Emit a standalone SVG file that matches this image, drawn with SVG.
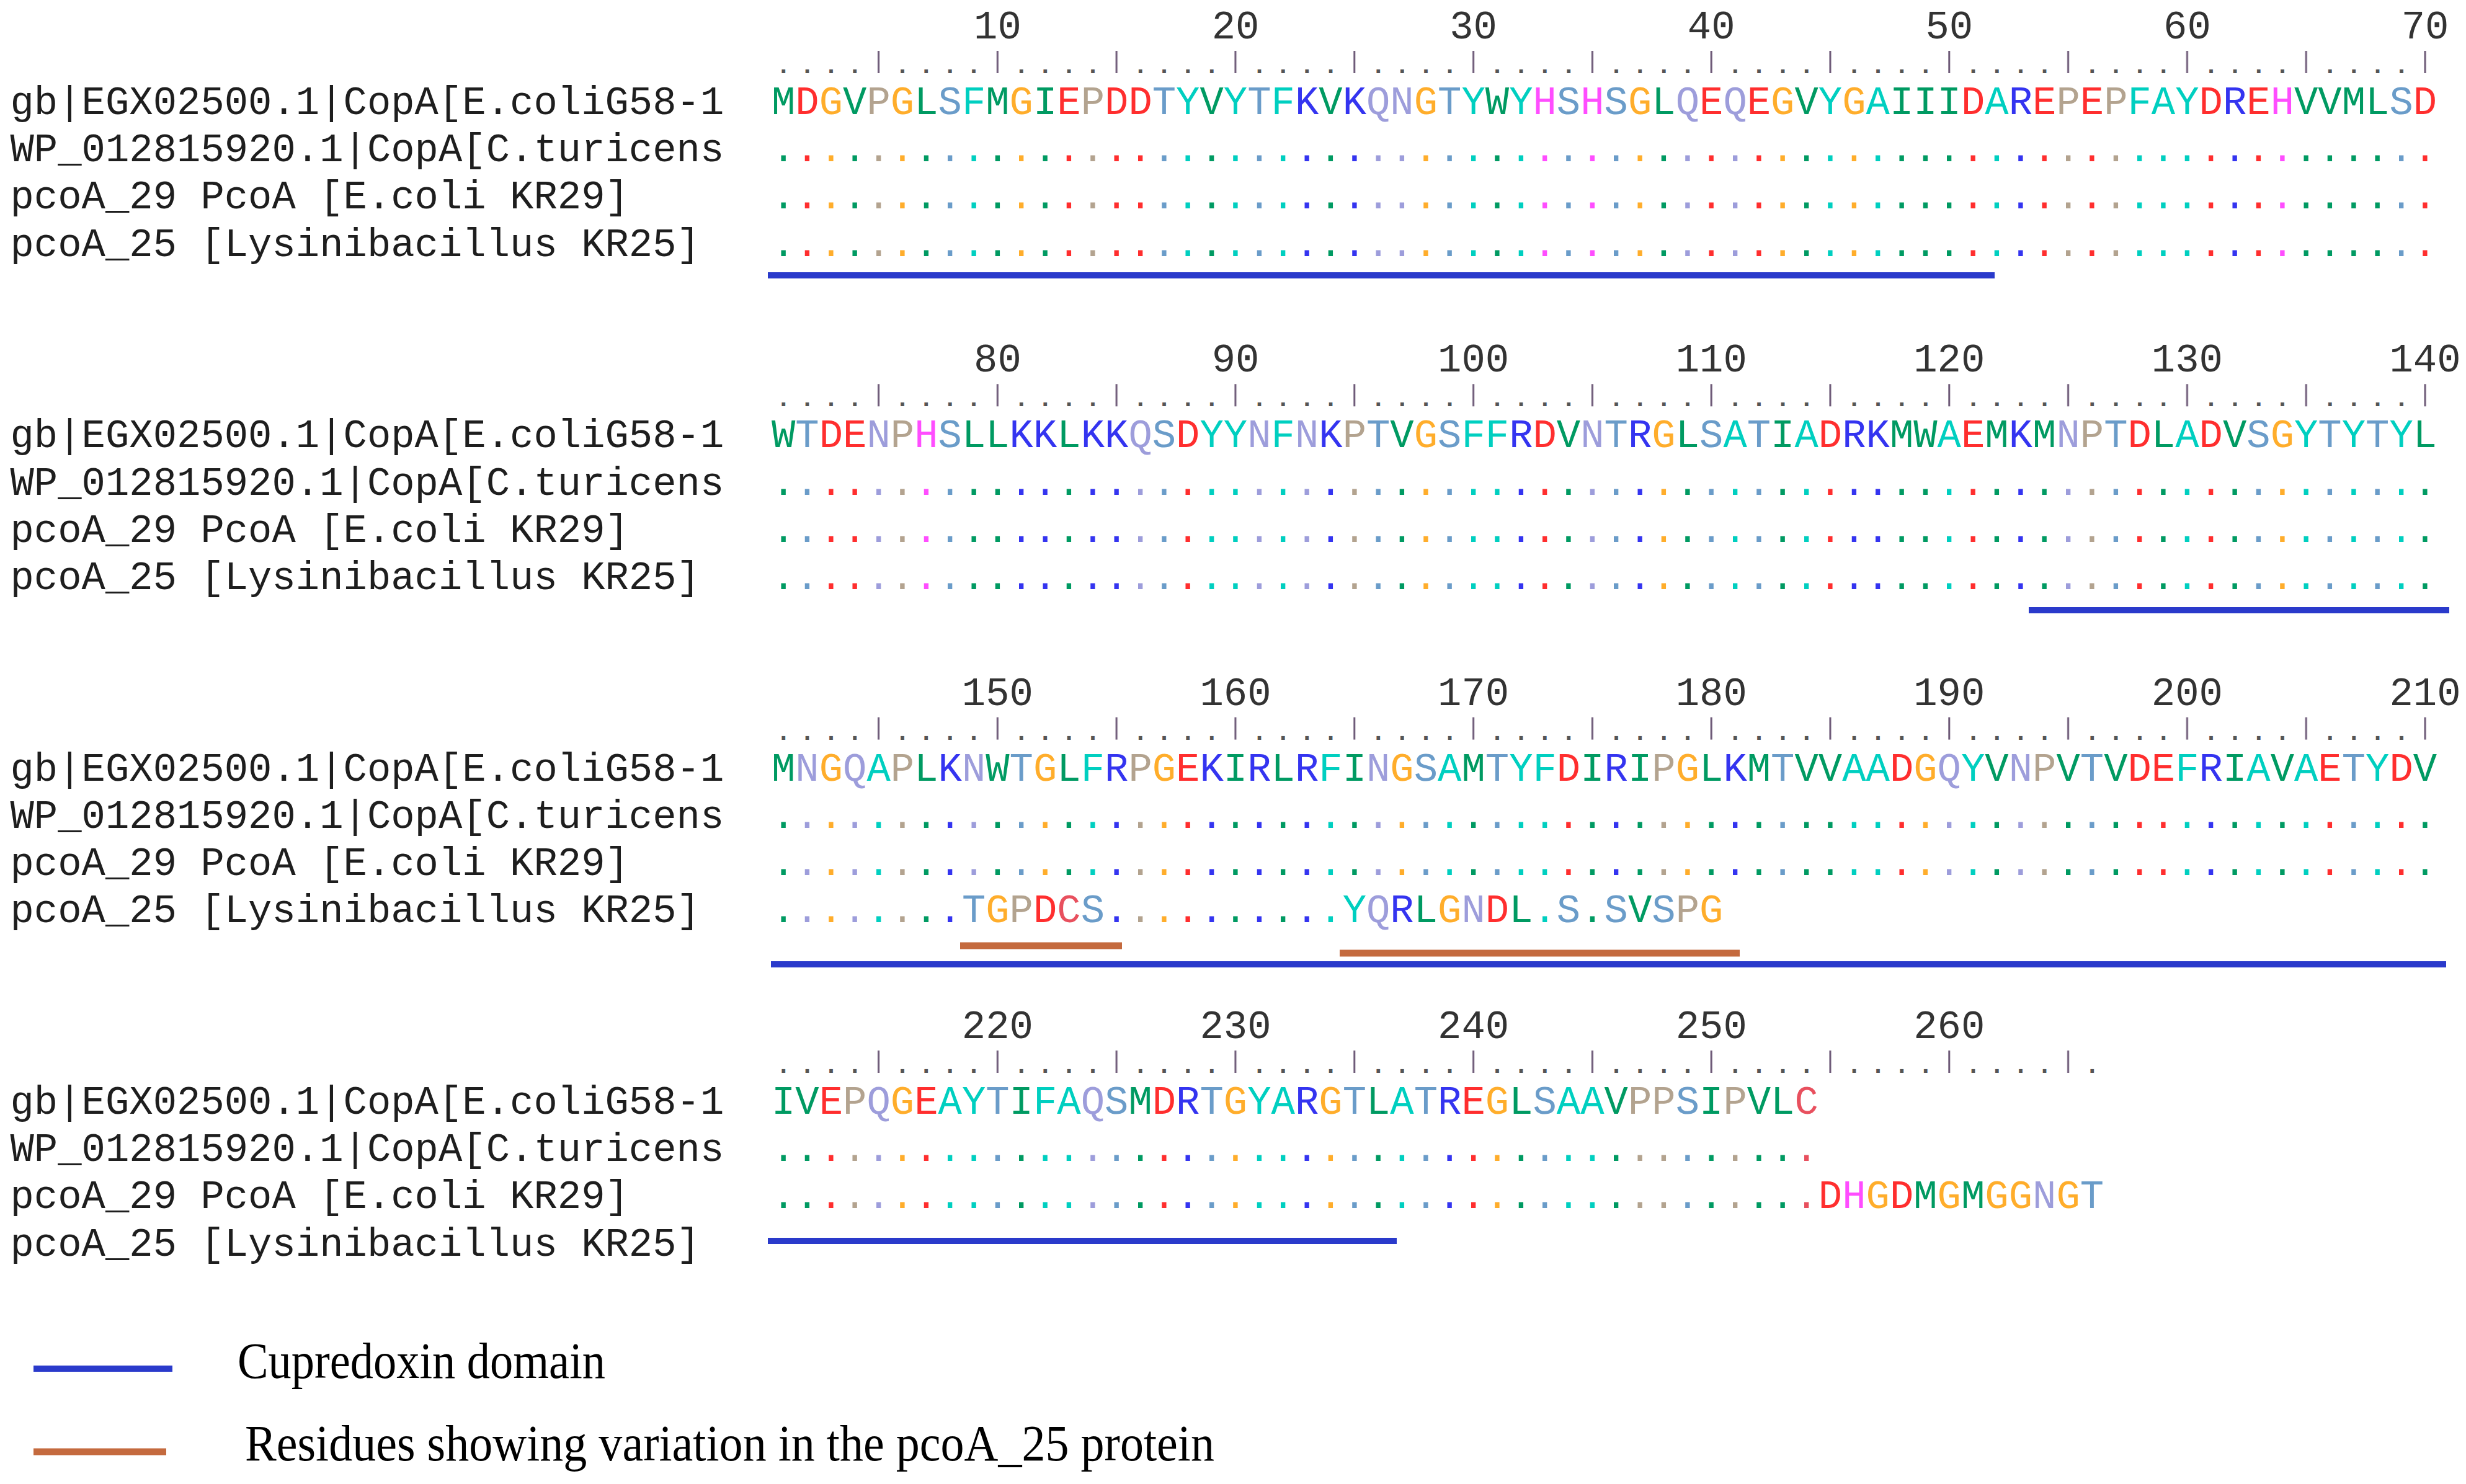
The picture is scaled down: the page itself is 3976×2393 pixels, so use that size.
<svg xmlns="http://www.w3.org/2000/svg" width="3976" height="2393" viewBox="0 0 3976 2393">
<style>
text{font-family:"Liberation Mono","DejaVu Sans Mono",monospace;font-size:63.93px}
.lab{fill:#1e1e1e}
.num{fill:#333;text-anchor:middle}
.rul{fill:#555;font-size:40px;font-weight:bold;letter-spacing:14.36px}
.leg{font-family:"Liberation Serif","Times New Roman",serif;font-size:83px;fill:#000}
.g{fill:#009a62}.c{fill:#00cfc0}.s{fill:#6a9cc9}.r{fill:#ff2e2e}.b{fill:#3434f0}
.l{fill:#9d9ddb}.o{fill:#ffad2b}.p{fill:#b3a38f}.m{fill:#ff4dff}.x{fill:#e8505e}
.dom{stroke:#2a3acb;stroke-width:10;fill:none}
.var{stroke:#c46a3e;stroke-width:11;fill:none}
</style>
<defs>
<pattern id="tk" patternUnits="userSpaceOnUse" x="1244" y="0" width="191.8" height="2393"><rect x="171.1" y="0" width="3" height="2393" fill="#6e5a78"/></pattern>
</defs>
<rect width="3976" height="2393" fill="#fff"/>

<g id="block1">
<g class="num"><text x="1608.4" y="62">10</text><text x="1992.0" y="62">20</text><text x="2375.6" y="62">30</text><text x="2759.2" y="62">40</text><text x="3142.8" y="62">50</text><text x="3526.4" y="62">60</text><text x="3910.0" y="62">70</text></g>
<text class="rul" x="1251.2" y="118">.... .... .... .... .... .... .... .... .... .... .... .... .... ....</text>
<rect x="1244" y="82" width="2685.2" height="36" fill="url(#tk)"/>
<text class="lab" x="16.5" y="184">gb|EGX02500.1|CopA[E.coliG58-1</text>
<text class="lab" x="16.5" y="260.2">WP_012815920.1|CopA[C.turicens</text>
<text class="lab" x="16.5" y="336.4">pcoA_29 PcoA [E.coli KR29]</text>
<text class="lab" x="16.5" y="412.6">pcoA_25 [Lysinibacillus KR25]</text>
<text x="1244" y="184"><tspan class="g">M</tspan><tspan class="r">D</tspan><tspan class="o">G</tspan><tspan class="g">V</tspan><tspan class="p">P</tspan><tspan class="o">G</tspan><tspan class="g">L</tspan><tspan class="s">S</tspan><tspan class="c">F</tspan><tspan class="g">M</tspan><tspan class="o">G</tspan><tspan class="g">I</tspan><tspan class="r">E</tspan><tspan class="p">P</tspan><tspan class="r">DD</tspan><tspan class="s">T</tspan><tspan class="c">Y</tspan><tspan class="g">V</tspan><tspan class="c">Y</tspan><tspan class="s">T</tspan><tspan class="c">F</tspan><tspan class="b">K</tspan><tspan class="g">V</tspan><tspan class="b">K</tspan><tspan class="l">QN</tspan><tspan class="o">G</tspan><tspan class="s">T</tspan><tspan class="c">Y</tspan><tspan class="g">W</tspan><tspan class="c">Y</tspan><tspan class="m">H</tspan><tspan class="s">S</tspan><tspan class="m">H</tspan><tspan class="s">S</tspan><tspan class="o">G</tspan><tspan class="g">L</tspan><tspan class="l">Q</tspan><tspan class="r">E</tspan><tspan class="l">Q</tspan><tspan class="r">E</tspan><tspan class="o">G</tspan><tspan class="g">V</tspan><tspan class="c">Y</tspan><tspan class="o">G</tspan><tspan class="c">A</tspan><tspan class="g">III</tspan><tspan class="r">D</tspan><tspan class="c">A</tspan><tspan class="b">R</tspan><tspan class="r">E</tspan><tspan class="p">P</tspan><tspan class="r">E</tspan><tspan class="p">P</tspan><tspan class="c">FAY</tspan><tspan class="r">D</tspan><tspan class="b">R</tspan><tspan class="r">E</tspan><tspan class="m">H</tspan><tspan class="g">VVML</tspan><tspan class="s">S</tspan><tspan class="r">D</tspan></text>
<text x="1244" y="260.2"><tspan class="g">.</tspan><tspan class="r">.</tspan><tspan class="o">.</tspan><tspan class="g">.</tspan><tspan class="p">.</tspan><tspan class="o">.</tspan><tspan class="g">.</tspan><tspan class="s">.</tspan><tspan class="c">.</tspan><tspan class="g">.</tspan><tspan class="o">.</tspan><tspan class="g">.</tspan><tspan class="r">.</tspan><tspan class="p">.</tspan><tspan class="r">..</tspan><tspan class="s">.</tspan><tspan class="c">.</tspan><tspan class="g">.</tspan><tspan class="c">.</tspan><tspan class="s">.</tspan><tspan class="c">.</tspan><tspan class="b">.</tspan><tspan class="g">.</tspan><tspan class="b">.</tspan><tspan class="l">..</tspan><tspan class="o">.</tspan><tspan class="s">.</tspan><tspan class="c">.</tspan><tspan class="g">.</tspan><tspan class="c">.</tspan><tspan class="m">.</tspan><tspan class="s">.</tspan><tspan class="m">.</tspan><tspan class="s">.</tspan><tspan class="o">.</tspan><tspan class="g">.</tspan><tspan class="l">.</tspan><tspan class="r">.</tspan><tspan class="l">.</tspan><tspan class="r">.</tspan><tspan class="o">.</tspan><tspan class="g">.</tspan><tspan class="c">.</tspan><tspan class="o">.</tspan><tspan class="c">.</tspan><tspan class="g">...</tspan><tspan class="r">.</tspan><tspan class="c">.</tspan><tspan class="b">.</tspan><tspan class="r">.</tspan><tspan class="p">.</tspan><tspan class="r">.</tspan><tspan class="p">.</tspan><tspan class="c">...</tspan><tspan class="r">.</tspan><tspan class="b">.</tspan><tspan class="r">.</tspan><tspan class="m">.</tspan><tspan class="g">....</tspan><tspan class="s">.</tspan><tspan class="r">.</tspan></text>
<text x="1244" y="336.4"><tspan class="g">.</tspan><tspan class="r">.</tspan><tspan class="o">.</tspan><tspan class="g">.</tspan><tspan class="p">.</tspan><tspan class="o">.</tspan><tspan class="g">.</tspan><tspan class="s">.</tspan><tspan class="c">.</tspan><tspan class="g">.</tspan><tspan class="o">.</tspan><tspan class="g">.</tspan><tspan class="r">.</tspan><tspan class="p">.</tspan><tspan class="r">..</tspan><tspan class="s">.</tspan><tspan class="c">.</tspan><tspan class="g">.</tspan><tspan class="c">.</tspan><tspan class="s">.</tspan><tspan class="c">.</tspan><tspan class="b">.</tspan><tspan class="g">.</tspan><tspan class="b">.</tspan><tspan class="l">..</tspan><tspan class="o">.</tspan><tspan class="s">.</tspan><tspan class="c">.</tspan><tspan class="g">.</tspan><tspan class="c">.</tspan><tspan class="m">.</tspan><tspan class="s">.</tspan><tspan class="m">.</tspan><tspan class="s">.</tspan><tspan class="o">.</tspan><tspan class="g">.</tspan><tspan class="l">.</tspan><tspan class="r">.</tspan><tspan class="l">.</tspan><tspan class="r">.</tspan><tspan class="o">.</tspan><tspan class="g">.</tspan><tspan class="c">.</tspan><tspan class="o">.</tspan><tspan class="c">.</tspan><tspan class="g">...</tspan><tspan class="r">.</tspan><tspan class="c">.</tspan><tspan class="b">.</tspan><tspan class="r">.</tspan><tspan class="p">.</tspan><tspan class="r">.</tspan><tspan class="p">.</tspan><tspan class="c">...</tspan><tspan class="r">.</tspan><tspan class="b">.</tspan><tspan class="r">.</tspan><tspan class="m">.</tspan><tspan class="g">....</tspan><tspan class="s">.</tspan><tspan class="r">.</tspan></text>
<text x="1244" y="412.6"><tspan class="g">.</tspan><tspan class="r">.</tspan><tspan class="o">.</tspan><tspan class="g">.</tspan><tspan class="p">.</tspan><tspan class="o">.</tspan><tspan class="g">.</tspan><tspan class="s">.</tspan><tspan class="c">.</tspan><tspan class="g">.</tspan><tspan class="o">.</tspan><tspan class="g">.</tspan><tspan class="r">.</tspan><tspan class="p">.</tspan><tspan class="r">..</tspan><tspan class="s">.</tspan><tspan class="c">.</tspan><tspan class="g">.</tspan><tspan class="c">.</tspan><tspan class="s">.</tspan><tspan class="c">.</tspan><tspan class="b">.</tspan><tspan class="g">.</tspan><tspan class="b">.</tspan><tspan class="l">..</tspan><tspan class="o">.</tspan><tspan class="s">.</tspan><tspan class="c">.</tspan><tspan class="g">.</tspan><tspan class="c">.</tspan><tspan class="m">.</tspan><tspan class="s">.</tspan><tspan class="m">.</tspan><tspan class="s">.</tspan><tspan class="o">.</tspan><tspan class="g">.</tspan><tspan class="l">.</tspan><tspan class="r">.</tspan><tspan class="l">.</tspan><tspan class="r">.</tspan><tspan class="o">.</tspan><tspan class="g">.</tspan><tspan class="c">.</tspan><tspan class="o">.</tspan><tspan class="c">.</tspan><tspan class="g">...</tspan><tspan class="r">.</tspan><tspan class="c">.</tspan><tspan class="b">.</tspan><tspan class="r">.</tspan><tspan class="p">.</tspan><tspan class="r">.</tspan><tspan class="p">.</tspan><tspan class="c">...</tspan><tspan class="r">.</tspan><tspan class="b">.</tspan><tspan class="r">.</tspan><tspan class="m">.</tspan><tspan class="g">....</tspan><tspan class="s">.</tspan><tspan class="r">.</tspan></text>
<line class="dom" x1="1238" y1="444" x2="3216" y2="444"/>
</g>

<g id="block2">
<g class="num"><text x="1608.4" y="599.3">80</text><text x="1992.0" y="599.3">90</text><text x="2375.6" y="599.3">100</text><text x="2759.2" y="599.3">110</text><text x="3142.8" y="599.3">120</text><text x="3526.4" y="599.3">130</text><text x="3910.0" y="599.3">140</text></g>
<text class="rul" x="1251.2" y="655.3">.... .... .... .... .... .... .... .... .... .... .... .... .... ....</text>
<rect x="1244" y="619.3" width="2685.2" height="36" fill="url(#tk)"/>
<text class="lab" x="16.5" y="721.3">gb|EGX02500.1|CopA[E.coliG58-1</text>
<text class="lab" x="16.5" y="797.5">WP_012815920.1|CopA[C.turicens</text>
<text class="lab" x="16.5" y="873.7">pcoA_29 PcoA [E.coli KR29]</text>
<text class="lab" x="16.5" y="949.9">pcoA_25 [Lysinibacillus KR25]</text>
<text x="1244" y="721.3"><tspan class="g">W</tspan><tspan class="s">T</tspan><tspan class="r">DE</tspan><tspan class="l">N</tspan><tspan class="p">P</tspan><tspan class="m">H</tspan><tspan class="s">S</tspan><tspan class="g">LL</tspan><tspan class="b">KK</tspan><tspan class="g">L</tspan><tspan class="b">KK</tspan><tspan class="l">Q</tspan><tspan class="s">S</tspan><tspan class="r">D</tspan><tspan class="c">YY</tspan><tspan class="l">N</tspan><tspan class="c">F</tspan><tspan class="l">N</tspan><tspan class="b">K</tspan><tspan class="p">P</tspan><tspan class="s">T</tspan><tspan class="g">V</tspan><tspan class="o">G</tspan><tspan class="s">S</tspan><tspan class="c">FF</tspan><tspan class="b">R</tspan><tspan class="r">D</tspan><tspan class="g">V</tspan><tspan class="l">N</tspan><tspan class="s">T</tspan><tspan class="b">R</tspan><tspan class="o">G</tspan><tspan class="g">L</tspan><tspan class="s">S</tspan><tspan class="c">A</tspan><tspan class="s">T</tspan><tspan class="g">I</tspan><tspan class="c">A</tspan><tspan class="r">D</tspan><tspan class="b">RK</tspan><tspan class="g">MW</tspan><tspan class="c">A</tspan><tspan class="r">E</tspan><tspan class="g">M</tspan><tspan class="b">K</tspan><tspan class="g">M</tspan><tspan class="l">N</tspan><tspan class="p">P</tspan><tspan class="s">T</tspan><tspan class="r">D</tspan><tspan class="g">L</tspan><tspan class="c">A</tspan><tspan class="r">D</tspan><tspan class="g">V</tspan><tspan class="s">S</tspan><tspan class="o">G</tspan><tspan class="c">Y</tspan><tspan class="s">T</tspan><tspan class="c">Y</tspan><tspan class="s">T</tspan><tspan class="c">Y</tspan><tspan class="g">L</tspan></text>
<text x="1244" y="797.5"><tspan class="g">.</tspan><tspan class="s">.</tspan><tspan class="r">..</tspan><tspan class="l">.</tspan><tspan class="p">.</tspan><tspan class="m">.</tspan><tspan class="s">.</tspan><tspan class="g">..</tspan><tspan class="b">..</tspan><tspan class="g">.</tspan><tspan class="b">..</tspan><tspan class="l">.</tspan><tspan class="s">.</tspan><tspan class="r">.</tspan><tspan class="c">..</tspan><tspan class="l">.</tspan><tspan class="c">.</tspan><tspan class="l">.</tspan><tspan class="b">.</tspan><tspan class="p">.</tspan><tspan class="s">.</tspan><tspan class="g">.</tspan><tspan class="o">.</tspan><tspan class="s">.</tspan><tspan class="c">..</tspan><tspan class="b">.</tspan><tspan class="r">.</tspan><tspan class="g">.</tspan><tspan class="l">.</tspan><tspan class="s">.</tspan><tspan class="b">.</tspan><tspan class="o">.</tspan><tspan class="g">.</tspan><tspan class="s">.</tspan><tspan class="c">.</tspan><tspan class="s">.</tspan><tspan class="g">.</tspan><tspan class="c">.</tspan><tspan class="r">.</tspan><tspan class="b">..</tspan><tspan class="g">..</tspan><tspan class="c">.</tspan><tspan class="r">.</tspan><tspan class="g">.</tspan><tspan class="b">.</tspan><tspan class="g">.</tspan><tspan class="l">.</tspan><tspan class="p">.</tspan><tspan class="s">.</tspan><tspan class="r">.</tspan><tspan class="g">.</tspan><tspan class="c">.</tspan><tspan class="r">.</tspan><tspan class="g">.</tspan><tspan class="s">.</tspan><tspan class="o">.</tspan><tspan class="c">.</tspan><tspan class="s">.</tspan><tspan class="c">.</tspan><tspan class="s">.</tspan><tspan class="c">.</tspan><tspan class="g">.</tspan></text>
<text x="1244" y="873.7"><tspan class="g">.</tspan><tspan class="s">.</tspan><tspan class="r">..</tspan><tspan class="l">.</tspan><tspan class="p">.</tspan><tspan class="m">.</tspan><tspan class="s">.</tspan><tspan class="g">..</tspan><tspan class="b">..</tspan><tspan class="g">.</tspan><tspan class="b">..</tspan><tspan class="l">.</tspan><tspan class="s">.</tspan><tspan class="r">.</tspan><tspan class="c">..</tspan><tspan class="l">.</tspan><tspan class="c">.</tspan><tspan class="l">.</tspan><tspan class="b">.</tspan><tspan class="p">.</tspan><tspan class="s">.</tspan><tspan class="g">.</tspan><tspan class="o">.</tspan><tspan class="s">.</tspan><tspan class="c">..</tspan><tspan class="b">.</tspan><tspan class="r">.</tspan><tspan class="g">.</tspan><tspan class="l">.</tspan><tspan class="s">.</tspan><tspan class="b">.</tspan><tspan class="o">.</tspan><tspan class="g">.</tspan><tspan class="s">.</tspan><tspan class="c">.</tspan><tspan class="s">.</tspan><tspan class="g">.</tspan><tspan class="c">.</tspan><tspan class="r">.</tspan><tspan class="b">..</tspan><tspan class="g">..</tspan><tspan class="c">.</tspan><tspan class="r">.</tspan><tspan class="g">.</tspan><tspan class="b">.</tspan><tspan class="g">.</tspan><tspan class="l">.</tspan><tspan class="p">.</tspan><tspan class="s">.</tspan><tspan class="r">.</tspan><tspan class="g">.</tspan><tspan class="c">.</tspan><tspan class="r">.</tspan><tspan class="g">.</tspan><tspan class="s">.</tspan><tspan class="o">.</tspan><tspan class="c">.</tspan><tspan class="s">.</tspan><tspan class="c">.</tspan><tspan class="s">.</tspan><tspan class="c">.</tspan><tspan class="g">.</tspan></text>
<text x="1244" y="949.9"><tspan class="g">.</tspan><tspan class="s">.</tspan><tspan class="r">..</tspan><tspan class="l">.</tspan><tspan class="p">.</tspan><tspan class="m">.</tspan><tspan class="s">.</tspan><tspan class="g">..</tspan><tspan class="b">..</tspan><tspan class="g">.</tspan><tspan class="b">..</tspan><tspan class="l">.</tspan><tspan class="s">.</tspan><tspan class="r">.</tspan><tspan class="c">..</tspan><tspan class="l">.</tspan><tspan class="c">.</tspan><tspan class="l">.</tspan><tspan class="b">.</tspan><tspan class="p">.</tspan><tspan class="s">.</tspan><tspan class="g">.</tspan><tspan class="o">.</tspan><tspan class="s">.</tspan><tspan class="c">..</tspan><tspan class="b">.</tspan><tspan class="r">.</tspan><tspan class="g">.</tspan><tspan class="l">.</tspan><tspan class="s">.</tspan><tspan class="b">.</tspan><tspan class="o">.</tspan><tspan class="g">.</tspan><tspan class="s">.</tspan><tspan class="c">.</tspan><tspan class="s">.</tspan><tspan class="g">.</tspan><tspan class="c">.</tspan><tspan class="r">.</tspan><tspan class="b">..</tspan><tspan class="g">..</tspan><tspan class="c">.</tspan><tspan class="r">.</tspan><tspan class="g">.</tspan><tspan class="b">.</tspan><tspan class="g">.</tspan><tspan class="l">.</tspan><tspan class="p">.</tspan><tspan class="s">.</tspan><tspan class="r">.</tspan><tspan class="g">.</tspan><tspan class="c">.</tspan><tspan class="r">.</tspan><tspan class="g">.</tspan><tspan class="s">.</tspan><tspan class="o">.</tspan><tspan class="c">.</tspan><tspan class="s">.</tspan><tspan class="c">.</tspan><tspan class="s">.</tspan><tspan class="c">.</tspan><tspan class="g">.</tspan></text>
<line class="dom" x1="3271" y1="984" x2="3949" y2="984"/>
</g>

<g id="block3">
<g class="num"><text x="1608.4" y="1136.6">150</text><text x="1992.0" y="1136.6">160</text><text x="2375.6" y="1136.6">170</text><text x="2759.2" y="1136.6">180</text><text x="3142.8" y="1136.6">190</text><text x="3526.4" y="1136.6">200</text><text x="3910.0" y="1136.6">210</text></g>
<text class="rul" x="1251.2" y="1192.6">.... .... .... .... .... .... .... .... .... .... .... .... .... ....</text>
<rect x="1244" y="1156.6" width="2685.2" height="36" fill="url(#tk)"/>
<text class="lab" x="16.5" y="1258.6">gb|EGX02500.1|CopA[E.coliG58-1</text>
<text class="lab" x="16.5" y="1334.8">WP_012815920.1|CopA[C.turicens</text>
<text class="lab" x="16.5" y="1411">pcoA_29 PcoA [E.coli KR29]</text>
<text class="lab" x="16.5" y="1487.2">pcoA_25 [Lysinibacillus KR25]</text>
<text x="1244" y="1258.6"><tspan class="g">M</tspan><tspan class="l">N</tspan><tspan class="o">G</tspan><tspan class="l">Q</tspan><tspan class="c">A</tspan><tspan class="p">P</tspan><tspan class="g">L</tspan><tspan class="b">K</tspan><tspan class="l">N</tspan><tspan class="g">W</tspan><tspan class="s">T</tspan><tspan class="o">G</tspan><tspan class="g">L</tspan><tspan class="c">F</tspan><tspan class="b">R</tspan><tspan class="p">P</tspan><tspan class="o">G</tspan><tspan class="r">E</tspan><tspan class="b">K</tspan><tspan class="g">I</tspan><tspan class="b">R</tspan><tspan class="g">L</tspan><tspan class="b">R</tspan><tspan class="c">F</tspan><tspan class="g">I</tspan><tspan class="l">N</tspan><tspan class="o">G</tspan><tspan class="s">S</tspan><tspan class="c">A</tspan><tspan class="g">M</tspan><tspan class="s">T</tspan><tspan class="c">YF</tspan><tspan class="r">D</tspan><tspan class="g">I</tspan><tspan class="b">R</tspan><tspan class="g">I</tspan><tspan class="p">P</tspan><tspan class="o">G</tspan><tspan class="g">L</tspan><tspan class="b">K</tspan><tspan class="g">M</tspan><tspan class="s">T</tspan><tspan class="g">VV</tspan><tspan class="c">AA</tspan><tspan class="r">D</tspan><tspan class="o">G</tspan><tspan class="l">Q</tspan><tspan class="c">Y</tspan><tspan class="g">V</tspan><tspan class="l">N</tspan><tspan class="p">P</tspan><tspan class="g">V</tspan><tspan class="s">T</tspan><tspan class="g">V</tspan><tspan class="r">DE</tspan><tspan class="c">F</tspan><tspan class="b">R</tspan><tspan class="g">I</tspan><tspan class="c">A</tspan><tspan class="g">V</tspan><tspan class="c">A</tspan><tspan class="r">E</tspan><tspan class="s">T</tspan><tspan class="c">Y</tspan><tspan class="r">D</tspan><tspan class="g">V</tspan></text>
<text x="1244" y="1334.8"><tspan class="g">.</tspan><tspan class="l">.</tspan><tspan class="o">.</tspan><tspan class="l">.</tspan><tspan class="c">.</tspan><tspan class="p">.</tspan><tspan class="g">.</tspan><tspan class="b">.</tspan><tspan class="l">.</tspan><tspan class="g">.</tspan><tspan class="s">.</tspan><tspan class="o">.</tspan><tspan class="g">.</tspan><tspan class="c">.</tspan><tspan class="b">.</tspan><tspan class="p">.</tspan><tspan class="o">.</tspan><tspan class="r">.</tspan><tspan class="b">.</tspan><tspan class="g">.</tspan><tspan class="b">.</tspan><tspan class="g">.</tspan><tspan class="b">.</tspan><tspan class="c">.</tspan><tspan class="g">.</tspan><tspan class="l">.</tspan><tspan class="o">.</tspan><tspan class="s">.</tspan><tspan class="c">.</tspan><tspan class="g">.</tspan><tspan class="s">.</tspan><tspan class="c">..</tspan><tspan class="r">.</tspan><tspan class="g">.</tspan><tspan class="b">.</tspan><tspan class="g">.</tspan><tspan class="p">.</tspan><tspan class="o">.</tspan><tspan class="g">.</tspan><tspan class="b">.</tspan><tspan class="g">.</tspan><tspan class="s">.</tspan><tspan class="g">..</tspan><tspan class="c">..</tspan><tspan class="r">.</tspan><tspan class="o">.</tspan><tspan class="l">.</tspan><tspan class="c">.</tspan><tspan class="g">.</tspan><tspan class="l">.</tspan><tspan class="p">.</tspan><tspan class="g">.</tspan><tspan class="s">.</tspan><tspan class="g">.</tspan><tspan class="r">..</tspan><tspan class="c">.</tspan><tspan class="b">.</tspan><tspan class="g">.</tspan><tspan class="c">.</tspan><tspan class="g">.</tspan><tspan class="c">.</tspan><tspan class="r">.</tspan><tspan class="s">.</tspan><tspan class="c">.</tspan><tspan class="r">.</tspan><tspan class="g">.</tspan></text>
<text x="1244" y="1411"><tspan class="g">.</tspan><tspan class="l">.</tspan><tspan class="o">.</tspan><tspan class="l">.</tspan><tspan class="c">.</tspan><tspan class="p">.</tspan><tspan class="g">.</tspan><tspan class="b">.</tspan><tspan class="l">.</tspan><tspan class="g">.</tspan><tspan class="s">.</tspan><tspan class="o">.</tspan><tspan class="g">.</tspan><tspan class="c">.</tspan><tspan class="b">.</tspan><tspan class="p">.</tspan><tspan class="o">.</tspan><tspan class="r">.</tspan><tspan class="b">.</tspan><tspan class="g">.</tspan><tspan class="b">.</tspan><tspan class="g">.</tspan><tspan class="b">.</tspan><tspan class="c">.</tspan><tspan class="g">.</tspan><tspan class="l">.</tspan><tspan class="o">.</tspan><tspan class="s">.</tspan><tspan class="c">.</tspan><tspan class="g">.</tspan><tspan class="s">.</tspan><tspan class="c">..</tspan><tspan class="r">.</tspan><tspan class="g">.</tspan><tspan class="b">.</tspan><tspan class="g">.</tspan><tspan class="p">.</tspan><tspan class="o">.</tspan><tspan class="g">.</tspan><tspan class="b">.</tspan><tspan class="g">.</tspan><tspan class="s">.</tspan><tspan class="g">..</tspan><tspan class="c">..</tspan><tspan class="r">.</tspan><tspan class="o">.</tspan><tspan class="l">.</tspan><tspan class="c">.</tspan><tspan class="g">.</tspan><tspan class="l">.</tspan><tspan class="p">.</tspan><tspan class="g">.</tspan><tspan class="s">.</tspan><tspan class="g">.</tspan><tspan class="r">..</tspan><tspan class="c">.</tspan><tspan class="b">.</tspan><tspan class="g">.</tspan><tspan class="c">.</tspan><tspan class="g">.</tspan><tspan class="c">.</tspan><tspan class="r">.</tspan><tspan class="s">.</tspan><tspan class="c">.</tspan><tspan class="r">.</tspan><tspan class="g">.</tspan></text>
<text x="1244" y="1487.2"><tspan class="g">.</tspan><tspan class="l">.</tspan><tspan class="o">.</tspan><tspan class="l">.</tspan><tspan class="c">.</tspan><tspan class="p">.</tspan><tspan class="g">.</tspan><tspan class="b">.</tspan><tspan class="s">T</tspan><tspan class="o">G</tspan><tspan class="p">P</tspan><tspan class="r">D</tspan><tspan class="x">C</tspan><tspan class="s">S</tspan><tspan class="b">.</tspan><tspan class="p">.</tspan><tspan class="o">.</tspan><tspan class="r">.</tspan><tspan class="b">.</tspan><tspan class="g">.</tspan><tspan class="b">.</tspan><tspan class="g">.</tspan><tspan class="b">.</tspan><tspan class="c">.</tspan><tspan class="c">Y</tspan><tspan class="l">Q</tspan><tspan class="b">R</tspan><tspan class="g">L</tspan><tspan class="o">G</tspan><tspan class="l">N</tspan><tspan class="r">D</tspan><tspan class="g">L</tspan><tspan class="c">.</tspan><tspan class="s">S</tspan><tspan class="g">.</tspan><tspan class="s">S</tspan><tspan class="g">V</tspan><tspan class="s">S</tspan><tspan class="p">P</tspan><tspan class="o">G</tspan></text>
<line class="var" x1="1548" y1="1525" x2="1809" y2="1525"/>
<line class="var" x1="2160" y1="1537" x2="2805" y2="1537"/>
<line class="dom" x1="1243" y1="1555" x2="3944" y2="1555"/>
</g>

<g id="block4">
<g class="num"><text x="1608.4" y="1674">220</text><text x="1992.0" y="1674">230</text><text x="2375.6" y="1674">240</text><text x="2759.2" y="1674">250</text><text x="3142.8" y="1674">260</text></g>
<text class="rul" x="1251.2" y="1730">.... .... .... .... .... .... .... .... .... .... .... .</text>
<rect x="1244" y="1694" width="2148.2" height="36" fill="url(#tk)"/>
<text class="lab" x="16.5" y="1796">gb|EGX02500.1|CopA[E.coliG58-1</text>
<text class="lab" x="16.5" y="1872.2">WP_012815920.1|CopA[C.turicens</text>
<text class="lab" x="16.5" y="1948.4">pcoA_29 PcoA [E.coli KR29]</text>
<text class="lab" x="16.5" y="2024.6">pcoA_25 [Lysinibacillus KR25]</text>
<text x="1244" y="1796"><tspan class="g">IV</tspan><tspan class="r">E</tspan><tspan class="p">P</tspan><tspan class="l">Q</tspan><tspan class="o">G</tspan><tspan class="r">E</tspan><tspan class="c">AY</tspan><tspan class="s">T</tspan><tspan class="g">I</tspan><tspan class="c">FA</tspan><tspan class="l">Q</tspan><tspan class="s">S</tspan><tspan class="g">M</tspan><tspan class="r">D</tspan><tspan class="b">R</tspan><tspan class="s">T</tspan><tspan class="o">G</tspan><tspan class="c">YA</tspan><tspan class="b">R</tspan><tspan class="o">G</tspan><tspan class="s">T</tspan><tspan class="g">L</tspan><tspan class="c">A</tspan><tspan class="s">T</tspan><tspan class="b">R</tspan><tspan class="r">E</tspan><tspan class="o">G</tspan><tspan class="g">L</tspan><tspan class="s">S</tspan><tspan class="c">AA</tspan><tspan class="g">V</tspan><tspan class="p">PP</tspan><tspan class="s">S</tspan><tspan class="g">I</tspan><tspan class="p">P</tspan><tspan class="g">VL</tspan><tspan class="x">C</tspan></text>
<text x="1244" y="1872.2"><tspan class="g">..</tspan><tspan class="r">.</tspan><tspan class="p">.</tspan><tspan class="l">.</tspan><tspan class="o">.</tspan><tspan class="r">.</tspan><tspan class="c">..</tspan><tspan class="s">.</tspan><tspan class="g">.</tspan><tspan class="c">..</tspan><tspan class="l">.</tspan><tspan class="s">.</tspan><tspan class="g">.</tspan><tspan class="r">.</tspan><tspan class="b">.</tspan><tspan class="s">.</tspan><tspan class="o">.</tspan><tspan class="c">..</tspan><tspan class="b">.</tspan><tspan class="o">.</tspan><tspan class="s">.</tspan><tspan class="g">.</tspan><tspan class="c">.</tspan><tspan class="s">.</tspan><tspan class="b">.</tspan><tspan class="r">.</tspan><tspan class="o">.</tspan><tspan class="g">.</tspan><tspan class="s">.</tspan><tspan class="c">..</tspan><tspan class="g">.</tspan><tspan class="p">..</tspan><tspan class="s">.</tspan><tspan class="g">.</tspan><tspan class="p">.</tspan><tspan class="g">..</tspan><tspan class="x">.</tspan></text>
<text x="1244" y="1948.4"><tspan class="g">..</tspan><tspan class="r">.</tspan><tspan class="p">.</tspan><tspan class="l">.</tspan><tspan class="o">.</tspan><tspan class="r">.</tspan><tspan class="c">..</tspan><tspan class="s">.</tspan><tspan class="g">.</tspan><tspan class="c">..</tspan><tspan class="l">.</tspan><tspan class="s">.</tspan><tspan class="g">.</tspan><tspan class="r">.</tspan><tspan class="b">.</tspan><tspan class="s">.</tspan><tspan class="o">.</tspan><tspan class="c">..</tspan><tspan class="b">.</tspan><tspan class="o">.</tspan><tspan class="s">.</tspan><tspan class="g">.</tspan><tspan class="c">.</tspan><tspan class="s">.</tspan><tspan class="b">.</tspan><tspan class="r">.</tspan><tspan class="o">.</tspan><tspan class="g">.</tspan><tspan class="s">.</tspan><tspan class="c">..</tspan><tspan class="g">.</tspan><tspan class="p">..</tspan><tspan class="s">.</tspan><tspan class="g">.</tspan><tspan class="p">.</tspan><tspan class="g">..</tspan><tspan class="x">.</tspan><tspan class="r">D</tspan><tspan class="m">H</tspan><tspan class="o">G</tspan><tspan class="r">D</tspan><tspan class="g">M</tspan><tspan class="o">G</tspan><tspan class="g">M</tspan><tspan class="o">GG</tspan><tspan class="l">N</tspan><tspan class="o">G</tspan><tspan class="s">T</tspan></text>
<line class="dom" x1="1238" y1="2001" x2="2252" y2="2001"/>
</g>

<g id="legend">
<line class="dom" x1="54" y1="2207" x2="278" y2="2207" stroke-width="12"/>
<text class="leg" x="383" y="2222" textLength="593" lengthAdjust="spacingAndGlyphs">Cupredoxin domain</text>
<line class="var" x1="54" y1="2341" x2="268" y2="2341" stroke-width="12"/>
<text class="leg" x="395" y="2355" textLength="1563" lengthAdjust="spacingAndGlyphs">Residues showing variation in the pcoA_25 protein</text>
</g>
</svg>
